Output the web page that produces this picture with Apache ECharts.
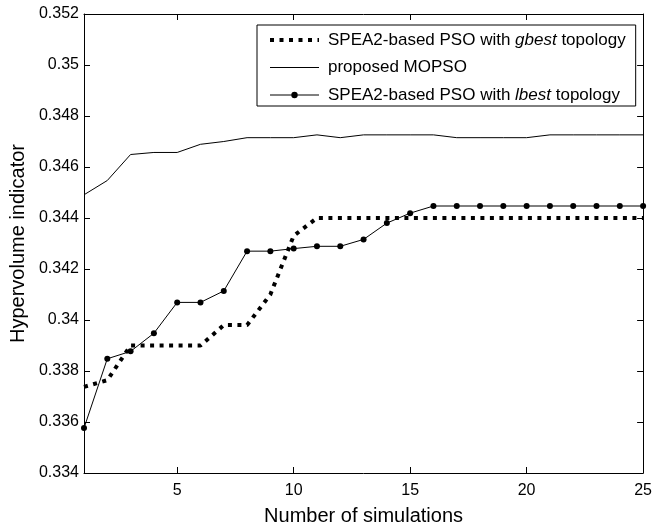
<!DOCTYPE html>
<html>
<head>
<meta charset="utf-8">
<script src="https://cdn.jsdelivr.net/npm/echarts@6/dist/echarts.min.js"></script>
<style>
html,body{margin:0;padding:0;background:#fff;}
#chart{width:655px;height:531px;}
</style>
</head>
<body>
<div id="chart"></div>
<script>
var simulations = [1,2,3,4,5,6,7,8,9,10,11,12,13,14,15,16,17,18,19,20,21,22,23,24,25];
var gbestValues = [0.33738,0.33764,0.3390,0.3390,0.3390,0.3390,0.3398,0.3398,0.3410,0.3433,0.3440,0.3440,0.3440,0.3440,0.3440,0.3440,0.3440,0.3440,0.3440,0.3440,0.3440,0.3440,0.3440,0.3440,0.3440];
var mopsoValues = [0.34491,0.34547,0.34649,0.34657,0.34657,0.34689,0.34700,0.34715,0.34715,0.34715,0.34726,0.34715,0.34726,0.34726,0.34726,0.34726,0.34715,0.34715,0.34715,0.34715,0.34726,0.34726,0.34726,0.34726,0.34726];
var lbestValues = [0.33576,0.33848,0.33877,0.33948,0.34069,0.34069,0.34114,0.34270,0.34270,0.34280,0.34289,0.34289,0.34316,0.34380,0.34419,0.34447,0.34447,0.34447,0.34447,0.34447,0.34447,0.34447,0.34447,0.34447,0.34447];
var xTicks = [5,10,15,20,25];
var yTicks = [0.334,0.336,0.338,0.34,0.342,0.344,0.346,0.348,0.35,0.352];
var seriesNames = ['SPEA2-based PSO with gbest topology','proposed MOPSO','SPEA2-based PSO with lbest topology'];

function pairs(vals){ return simulations.map(function(x,i){ return [x, vals[i]]; }); }
var FONT = '"Liberation Sans", Arial, sans-serif';
var chart = echarts.init(document.getElementById('chart'), null, {renderer:'canvas'});
var axisLine = {show:true, lineStyle:{color:'#000', width:1}};
var gbestLine = {color:'#000', width:4, type:[4,5.5], cap:'butt'};
var opt = {
  backgroundColor:'#fff',
  animation:false,
  textStyle:{fontFamily:FONT, color:'#000'},
  grid:{left:81, right:7, top:14, bottom:54, containLabel:false},
  legend:{
    orient:'vertical', left:257, top:25,
    padding:[5,10,1,11], itemGap:7.5, itemWidth:49, itemHeight:8,
    backgroundColor:'#fff', borderColor:'#000', borderWidth:1, borderRadius:0,
    data:[
      {name:seriesNames[0], lineStyle:{color:'#000', width:4, type:[4,5.5], cap:'butt'}, itemStyle:{opacity:0}},
      {name:seriesNames[1], lineStyle:{color:'#000', width:1}, itemStyle:{opacity:0}},
      {name:seriesNames[2], lineStyle:{color:'#000', width:1}, itemStyle:{color:'#000'}}
    ],
    formatter:function(n){
      if(n.indexOf('gbest')>=0) return 'SPEA2-based PSO with {i|gbest} topology';
      if(n.indexOf('lbest')>=0) return 'SPEA2-based PSO with {i|lbest} topology';
      return n;
    },
    textStyle:{fontFamily:FONT, fontSize:17, lineHeight:20, color:'#000', padding:[0,0,0,4],
      rich:{i:{fontStyle:'italic', fontFamily:FONT, fontSize:17, lineHeight:20, color:'#000'}}}
  },
  xAxis:[{
    type:'value', min:1, max:25, position:'bottom',
    name:'Number of simulations', nameLocation:'middle', nameGap:33,
    nameTextStyle:{fontFamily:FONT, fontSize:20, color:'#000'},
    axisLine:axisLine,
    axisTick:{show:true, inside:true, length:6, customValues:xTicks, lineStyle:{color:'#000'}},
    axisLabel:{show:true, customValues:xTicks, fontFamily:FONT, fontSize:16, color:'#000', margin:10},
    splitLine:{show:false}
  },{
    type:'value', min:1, max:25, position:'top',
    axisLine:axisLine,
    axisTick:{show:true, inside:true, length:6, customValues:xTicks, lineStyle:{color:'#000'}},
    axisLabel:{show:false}, splitLine:{show:false}
  }],
  yAxis:[{
    type:'value', min:0.334, max:0.352, position:'left',
    name:'Hypervolume indicator', nameLocation:'middle', nameGap:56,
    nameTextStyle:{fontFamily:FONT, fontSize:20, color:'#000'},
    axisLine:axisLine,
    axisTick:{show:true, inside:true, length:6, customValues:yTicks, lineStyle:{color:'#000'}},
    axisLabel:{show:true, customValues:yTicks, fontFamily:FONT, fontSize:16, color:'#000', margin:5,
      formatter:function(v){ return String(parseFloat(Number(v).toFixed(3))); }},
    splitLine:{show:false}
  },{
    type:'value', min:0.334, max:0.352, position:'right',
    axisLine:axisLine,
    axisTick:{show:true, inside:true, length:6, customValues:yTicks, lineStyle:{color:'#000'}},
    axisLabel:{show:false}, splitLine:{show:false}
  }],
  series:[{
    name:seriesNames[0], type:'line', data:pairs(gbestValues), symbol:'none',
    lineStyle:gbestLine, itemStyle:{color:'#000'}, z:3
  },{
    name:seriesNames[1], type:'line', data:pairs(mopsoValues), symbol:'none',
    lineStyle:{color:'#000', width:1}, itemStyle:{color:'#000'}, z:2
  },{
    name:seriesNames[2], type:'line', data:pairs(lbestValues), symbol:'circle', symbolSize:6,
    lineStyle:{color:'#000', width:1}, itemStyle:{color:'#000'}, z:4
  }]
};
chart.setOption(opt);
</script>
</body>
</html>
